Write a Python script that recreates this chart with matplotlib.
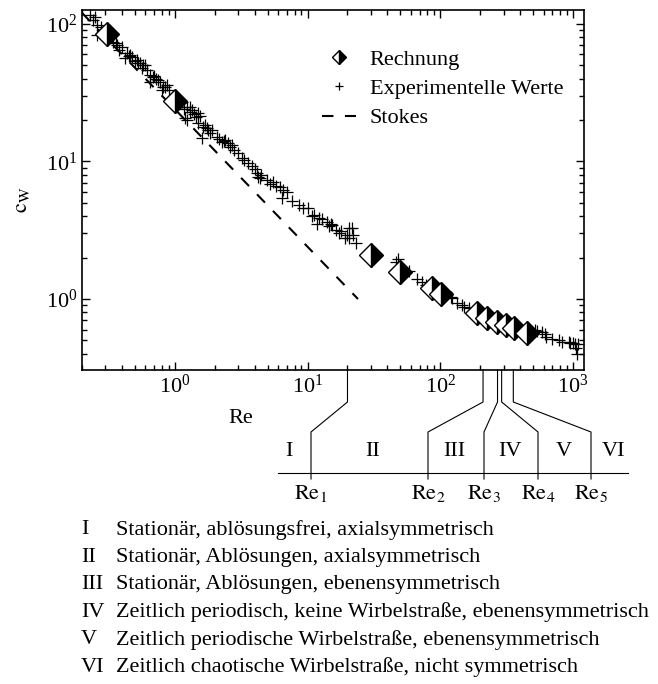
import matplotlib
matplotlib.use("Agg")
import matplotlib.pyplot as plt

plt.rcParams["font.family"] = ["Liberation Serif", "DejaVu Serif"]
plt.rcParams["mathtext.fontset"] = "stix"

# Rechnung (half filled diamonds)
rech_re = [0.31, 1.0, 30, 50, 87, 102, 190, 225, 268, 313, 360, 450]
rech_cw = [85, 27.5, 2.1, 1.57, 1.2, 1.09, 0.79, 0.73, 0.68, 0.645, 0.62, 0.567]

# Experimentelle Werte
exp_re = [0.23, 0.24, 0.25, 0.26, 0.26, 0.28, 0.30, 0.32, 0.34, 0.37, 0.38, 0.40,
          0.42, 0.44, 0.46, 0.48, 0.50, 0.52, 0.55, 0.57, 0.60, 0.62, 0.65, 0.65,
          0.68, 0.72, 0.77, 0.80, 0.81, 0.87, 0.90, 1.13, 1.19, 1.23, 1.23, 1.30,
          1.30, 1.40, 1.49, 1.49, 1.54, 1.60, 1.62, 1.74, 1.77, 1.90, 2.07, 2.25,
          2.40, 2.50, 2.60, 2.70, 2.97, 3.19, 3.54, 4.0, 4.13, 4.2, 4.5, 4.92,
          5.46, 6.15, 6.5, 6.4, 7.0, 7.7, 8.7, 10, 10.9, 11.7, 12.3, 12.9,
          13.9, 15, 15.4, 16.5, 18, 19, 20.7, 20.7, 21.5, 23.3, 46.7, 48,
          67, 73, 78, 123, 134, 146, 165, 540, 584, 624, 700, 830,
          930, 1000, 1060, 1080, 1090,
          0.29, 0.33, 0.36, 0.45, 0.53, 0.58, 0.70, 0.75, 0.84, 1.10, 1.17, 1.35,
          1.45, 1.70, 1.85, 2.15, 2.35, 2.80, 3.35, 3.80, 4.4, 5.2, 5.8, 9.2,
          11.2, 14.5, 17.2, 19.8, 22.0, 58, 120, 150, 520, 610, 780, 950, 1040]
exp_cw = [116, 107, 112, 98, 83, 95, 90, 80, 74, 70, 65, 68,
          56.5, 61, 59, 57.6, 54, 55, 52, 48, 50, 46, 42.5, 38,
          41, 40, 38, 33, 35, 36, 33, 27, 20.7, 24.9, 20, 23,
          25, 22, 22.5, 19, 21.4, 14.8, 17.8, 17.5, 17, 17, 15.1, 13.9,
          14.2, 13.6, 12.8, 13.2, 11.6, 10.6, 9.8, 8.8, 8.2, 7.7, 8.0, 7.3,
          7.1, 6.5, 6.2, 5.45, 6.0, 5.2, 4.8, 4.6, 4.0, 3.5, 3.9, 3.8,
          3.6, 3.5, 3.45, 3.2, 3.1, 2.8, 3.3, 2.78, 3.3, 2.57, 1.87, 1.95,
          1.4, 1.33, 1.27, 1.01, 0.94, 0.91, 0.86, 0.59, 0.58, 0.53, 0.51, 0.49,
          0.49, 0.48, 0.44, 0.40, 0.47,
          88, 82, 72, 58, 52, 50, 42, 39, 35, 26.5, 24, 23.5,
          21, 18.5, 16.2, 14.6, 14.1, 12.2, 10.2, 9.3, 7.6, 6.8, 6.6, 4.6,
          4.1, 3.4, 3.0, 2.9, 2.9, 1.6, 1.03, 0.88, 0.60, 0.56, 0.50, 0.48, 0.47]

# Stokes: cw = 24/Re
stokes_re = [0.2, 24]
stokes_cw = [120, 1.0]

# regime boundaries Re1..Re5
re_bounds = [20, 210, 270, 290, 355]
re_names = ["$\\mathrm{Re}_1$", "$\\mathrm{Re}_2$", "$\\mathrm{Re}_3$",
            "$\\mathrm{Re}_4$", "$\\mathrm{Re}_5$"]
regimes = ["I", "II", "III", "IV", "V", "VI"]
regime_text = ["Stationär, ablösungsfrei, axialsymmetrisch",
               "Stationär, Ablösungen, axialsymmetrisch",
               "Stationär, Ablösungen, ebenensymmetrisch",
               "Zeitlich periodisch, keine Wirbelstraße, ebenensymmetrisch",
               "Zeitlich periodische Wirbelstraße, ebenensymmetrisch",
               "Zeitlich chaotische Wirbelstraße, nicht symmetrisch"]

W, H = 658, 684
fs = 16
fig = plt.figure(figsize=(W / 100, H / 100), dpi=100)
ax = fig.add_axes([82 / W, 1 - 370 / H, 502 / W, 360 / H])

ax.plot(exp_re, exp_cw, linestyle="none", marker="+", ms=8.5, mew=0.9,
        color="black", label="Experimentelle Werte", zorder=2)
ax.plot(stokes_re, stokes_cw, linestyle=(0, (5.5, 5.5)), lw=1.5, color="black",
        label="Stokes", zorder=1)
ax.plot(rech_re, rech_cw, linestyle="none", marker="D", ms=12, fillstyle="right",
        markerfacecolor="black", markerfacecoloralt="white", markeredgecolor="black",
        mew=1.0, label="Rechnung", zorder=3)

ax.set_xscale("log")
ax.set_yscale("log")
ax.set_xlim(0.2, 1210)
ax.set_ylim(0.305, 126)
ax.tick_params(which="both", direction="in", top=True, right=True, labelsize=fs)
ax.tick_params(which="major", length=6, width=1)
ax.tick_params(which="minor", length=3.5, width=1)
for s in ax.spines.values():
    s.set_linewidth(1.2)

h, l = ax.get_legend_handles_labels()
order = [2, 0, 1]
leg = ax.legend([h[i] for i in order], [l[i] for i in order], loc="upper left",
                bbox_to_anchor=(322 / W, 1 - 49 / H), bbox_transform=fig.transFigure,
                frameon=False, fontsize=fs, markerscale=0.6, handlelength=1.55,
                handletextpad=0.6, labelspacing=0.4, borderpad=0, borderaxespad=0)

fig.text(241 / W, 1 - 418 / H, "Re", fontsize=fs, ha="center", va="center")
fig.text(22 / W, 1 - 200 / H, "$\\mathrm{c_W}$", fontsize=fs, ha="center",
         va="center", rotation=90)

# regime diagram below the axis
ov = fig.add_axes([0, 0, 1, 1])
ov.set_xlim(0, W)
ov.set_ylim(H, 0)
ov.axis("off")
fig.canvas.draw()
inv = ov.transData.inverted()
bottom_x = [311, 428, 484, 538, 591]
for re_b, xb, name in zip(re_bounds, bottom_x, re_names):
    xt = inv.transform(ax.transData.transform((re_b, 0.305)))[0]
    ov.plot([xt, xt, xb, xb], [370, 402, 432, 479], color="black", lw=0.8)
    ov.text(xb, 494, name, fontsize=fs, ha="center", va="center")
ov.plot([278, 628], [473, 473], color="black", lw=0.8)
for name, xr in zip(regimes, [289, 373, 454, 510, 564, 613]):
    ov.text(xr, 451, name, fontsize=fs, ha="center", va="center")

for i, (name, txt) in enumerate(zip(regimes, regime_text)):
    y = 530 + i * 27.4
    ov.text(81, y, name, fontsize=fs, ha="left", va="center")
    ov.text(116, y, txt, fontsize=fs, ha="left", va="center")

fig.savefig("out.png", dpi=100)
